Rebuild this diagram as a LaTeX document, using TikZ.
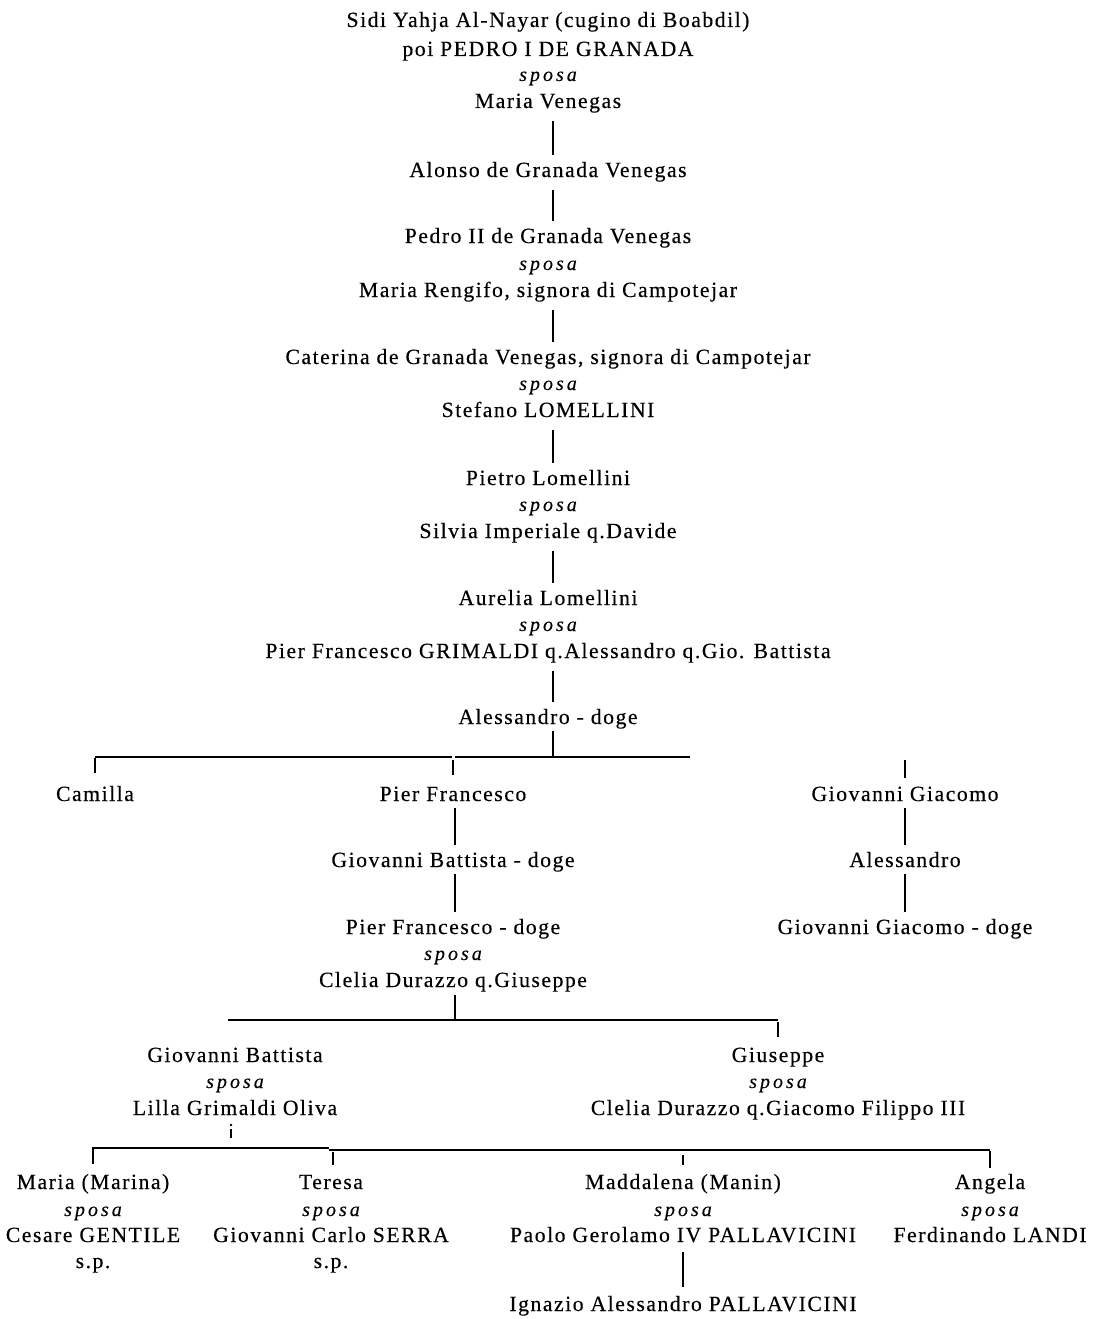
\documentclass[tikz,border=0pt]{standalone}
\usepackage{fontspec}
\setmainfont{Liberation Serif}[LetterSpace=7,FakeBold=0.35]
\newfontfamily\sposafont{Liberation Serif}[LetterSpace=15,FakeBold=0.3]
\begin{document}
\begin{tikzpicture}[x=1pt,y=-1pt,
  txt/.style={anchor=base, inner sep=0pt, font=\fontsize{21.7}{24}\selectfont},
  sp/.style={anchor=base, inner sep=0pt, font=\sposafont\itshape\fontsize{20}{24}\selectfont},
  conn/.style={line width=2.5pt},
  barthin/.style={line width=1.8pt},
  barthick/.style={line width=2.6pt},
  tick/.style={line width=1.6pt}]
\useasboundingbox[fill=white] (0,0) rectangle (1097,1319);

% main line of descent
\node[txt] (sidi) at (548,27) {Sidi Yahja Al-Nayar (cugino di Boabdil)};
\node[txt] (pedroI) at (548,56) {poi PEDRO I DE GRANADA};
\node[sp]  (s1) at (548,81) {sposa};
\node[txt] (mvenegas) at (548,108) {Maria Venegas};
\node[txt] (alonso) at (548,177) {Alonso de Granada Venegas};
\node[txt] (pedroII) at (548,243) {Pedro II de Granada Venegas};
\node[sp]  (s2) at (548,270) {sposa};
\node[txt] (rengifo) at (548,297) {Maria Rengifo, signora di Campotejar};
\node[txt] (caterina) at (548,364) {Caterina de Granada Venegas, signora di Campotejar};
\node[sp]  (s3) at (548,390) {sposa};
\node[txt] (stefano) at (548,417) {Stefano LOMELLINI};
\node[txt] (pietro) at (548,485) {Pietro Lomellini};
\node[sp]  (s4) at (548,511) {sposa};
\node[txt] (silvia) at (548,538) {Silvia Imperiale q.Davide};
\node[txt] (aurelia) at (548,605) {Aurelia Lomellini};
\node[sp]  (s5) at (548,631) {sposa};
\node[txt] (pfgrim) at (548,658) {Pier Francesco GRIMALDI q.Alessandro q.Gio. Battista};
\node[txt] (alexdoge) at (548,724) {Alessandro - doge};

% children of Alessandro
\node[txt] (camilla) at (95,801) {Camilla};
\node[txt] (pierf) at (453,801) {Pier Francesco};
\node[txt] (giogia) at (905,801) {Giovanni Giacomo};
\node[txt] (gbdoge) at (453,867) {Giovanni Battista - doge};
\node[txt] (alex2) at (905,867) {Alessandro};
\node[txt] (pfdoge) at (453,934) {Pier Francesco - doge};
\node[sp]  (s6) at (453,960) {sposa};
\node[txt] (cleliag) at (453,987) {Clelia Durazzo q.Giuseppe};
\node[txt] (ggdoge) at (905,934) {Giovanni Giacomo - doge};

% grandchildren
\node[txt] (gbatt) at (235,1062) {Giovanni Battista};
\node[sp]  (s7) at (235,1088) {sposa};
\node[txt] (lilla) at (235,1115) {Lilla Grimaldi Oliva};
\node[txt] (giuseppe) at (778,1062) {Giuseppe};
\node[sp]  (s8) at (778,1088) {sposa};
\node[txt] (cleliagf) at (778,1115) {Clelia Durazzo q.Giacomo Filippo III};

% daughters
\node[txt] (maria) at (93,1189) {Maria (Marina)};
\node[sp]  (s9) at (93,1216) {sposa};
\node[txt] (cesare) at (93,1242) {Cesare GENTILE};
\node[txt] (sp1) at (93,1268) {s.p.};
\node[txt] (teresa) at (331,1189) {Teresa};
\node[sp]  (s10) at (331,1216) {sposa};
\node[txt] (serra) at (331,1242) {Giovanni Carlo SERRA};
\node[txt] (sp2) at (331,1268) {s.p.};
\node[txt] (madd) at (683,1189) {Maddalena (Manin)};
\node[sp]  (s11) at (683,1216) {sposa};
\node[txt] (paolo) at (683,1242) {Paolo Gerolamo IV PALLAVICINI};
\node[txt] (ignazio) at (683,1311) {Ignazio Alessandro PALLAVICINI};
\node[txt] (angela) at (990,1189) {Angela};
\node[sp]  (s12) at (990,1216) {sposa};
\node[txt] (landi) at (990,1242) {Ferdinando LANDI};

% vertical links of the main line
\foreach \a/\b in {mvenegas/alonso, alonso/pedroII, rengifo/caterina,
                   stefano/pietro, silvia/aurelia, pfgrim/alexdoge}
  \draw[conn] ([xshift=5pt,yshift=-13pt]\a.base) -- ([xshift=5pt,yshift=22pt]\b.base);

% family of Alessandro - doge
\coordinate (barA) at (553,757);
\draw[conn] ([xshift=5pt,yshift=-7pt]alexdoge.base) -- (barA);
\draw[barthin] (camilla |- barA) -- ([xshift=-1pt]pierf |- barA);
\draw[barthick] ([xshift=2pt]pierf |- barA) -- (690,757);
\draw[tick] ([yshift=-1pt]camilla |- barA) -- ([yshift=28pt]camilla.base);
\draw[tick] ([yshift=-3pt]pierf |- barA) -- ([yshift=26pt]pierf.base);
\draw[tick] ([yshift=41pt]giogia.base) -- ([yshift=23pt]giogia.base);

% Pier Francesco's line and Giovanni Giacomo's line
\foreach \a/\b in {pierf/gbdoge, gbdoge/pfdoge}
  \draw[conn] ([xshift=2pt,yshift=-7pt]\a.base) -- ([xshift=2pt,yshift=22pt]\b.base);
\foreach \a/\b in {giogia/alex2, alex2/ggdoge}
  \draw[conn] ([yshift=-7pt]\a.base) -- ([yshift=22pt]\b.base);

% children of Pier Francesco - doge
\coordinate (barB) at (455,1020);
\draw[conn] ([xshift=2pt,yshift=-8pt]cleliag.base) -- (barB);
\draw[barthin] (228,1020) -- (giuseppe |- barB);
\draw[tick] ([yshift=-2pt]giuseppe |- barB) -- ([yshift=25pt]giuseppe.base);

% children of Giovanni Battista
\fill ([xshift=-4pt,yshift=-10pt]lilla.base) circle (1.3pt);
\draw[tick] ([xshift=-4pt,yshift=-14pt]lilla.base) -- ([xshift=-4pt,yshift=-23pt]lilla.base);
\coordinate (barC) at (92,1148);
\draw[barthick] (barC) -- (329,1148);
\draw[barthin] (329,1150) -- (angela |- 0,1150);
\draw[tick] ([yshift=-1pt]maria |- barC) -- ([yshift=25pt]maria.base);
\draw[tick] ([xshift=2pt]teresa |- 0,1152) -- ([xshift=2pt,yshift=24pt]teresa.base);
\draw[tick] (madd |- 0,1155) -- ([yshift=24pt]madd.base);
\draw[tick] (angela |- 0,1151) -- ([yshift=21pt]angela.base);

% son of Maddalena
\draw[conn] ([yshift=-10pt]paolo.base) -- ([yshift=24pt]ignazio.base);
\end{tikzpicture}
\end{document}
